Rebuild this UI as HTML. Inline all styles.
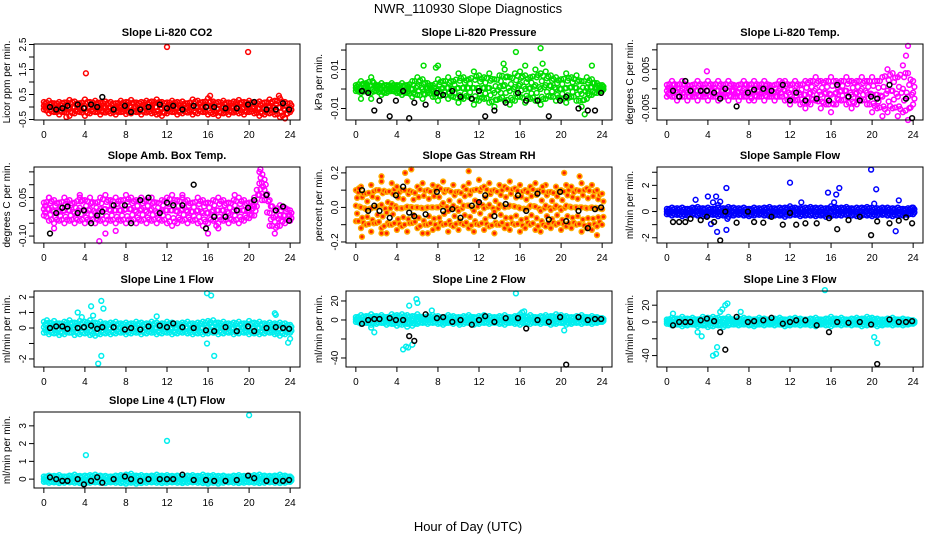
<!DOCTYPE html>
<html><head><meta charset="utf-8"><style>
html,body{margin:0;padding:0;background:#fff;}
svg{display:block;font-family:"Liberation Sans",Arial,sans-serif;}
</style></head><body>
<svg id="chart" width="936" height="540" viewBox="0 0 936 540">
<text x="468" y="13" text-anchor="middle" font-size="13">NWR_110930  Slope Diagnostics</text>
<text x="468" y="531" text-anchor="middle" font-size="13">Hour of Day (UTC)</text>
</svg>
<script>
const bandX=[0,0.5,1,1.5,2,2.5,3,3.5,4,4.5,5,5.5,6,6.5,7,7.5,8,8.5,9,9.5,10,10.5,11,11.5,12,12.5,13,13.5,14,14.5,15,15.5,16,16.5,17,17.5,18,18.5,19,19.5,20,20.5,21,21.5,22,22.5,23,23.5,24];
const blackX=[0.6,1.2,1.8,2.3,3.3,3.9,4.6,5.2,5.7,6.8,7.9,8.5,9.4,10.2,11.3,12,12.6,13.5,14.6,15.8,16.6,17.7,18.8,19.9,20.5,21.7,22.6,23.3,23.9];
const xTicks=[0,4,8,12,16,20,24];

const p1Hi=[0.2,0.25,0.15,0.2,0.18,0.28,0.22,0.15,0.3,0.2,0.25,0.18,0.22,0.2,0.15,0.25,0.2,0.28,0.18,0.2,0.25,0.22,0.3,0.2,0.18,0.25,0.2,0.22,0.15,0.3,0.25,0.2,0.35,0.22,0.2,0.25,0.18,0.22,0.28,0.2,0.25,0.2,0.22,0.18,0.3,0.25,0.35,0.2,0.15];
const p1Lo=[-0.1,-0.25,-0.2,-0.3,-0.2,-0.35,-0.25,-0.2,-0.35,-0.25,-0.2,-0.3,-0.22,-0.25,-0.3,-0.2,-0.28,-0.25,-0.2,-0.3,-0.22,-0.25,-0.3,-0.35,-0.25,-0.2,-0.3,-0.25,-0.22,-0.3,-0.25,-0.2,-0.3,-0.28,-0.35,-0.25,-0.3,-0.22,-0.25,-0.3,-0.2,-0.25,-0.35,-0.3,-0.25,-0.3,-0.4,-0.45,-0.2];
const p1OutX=[4.1,12,19.9,16.2,22.9,2.2,23.5];
const p1OutY=[1.35,2.4,2.2,0.45,0.45,-0.4,-0.45];
const p1Black=[0,-0.1,-0.05,0.05,0.1,-0.05,0.1,0,0.4,-0.1,0.05,-0.2,-0.1,0,0.1,-0.05,0.05,-0.1,0.05,0,0,-0.05,-0.05,0.1,0.2,-0.1,-0.1,0.15,-0.1];

const p2Hi=[0.002,0.004,0.003,0.006,0.002,0.003,0.002,0.003,0.002,0.003,0.002,0.004,0.006,0.005,0.003,0.002,0.005,0.004,0.006,0.004,0.008,0.006,0.005,0.009,0.007,0.006,0.008,0.005,0.007,0.01,0.006,0.008,0.009,0.007,0.006,0.01,0.008,0.009,0.007,0.006,0.005,0.008,0.006,0.007,0.004,0.006,0.005,0.003,0.002];
const p2Lo=[-0.001,-0.002,-0.001,-0.002,-0.001,-0.003,-0.002,-0.001,-0.002,-0.003,-0.002,-0.004,-0.003,-0.005,-0.002,-0.004,-0.006,-0.003,-0.005,-0.004,-0.007,-0.005,-0.004,-0.008,-0.006,-0.005,-0.007,-0.009,-0.005,-0.006,-0.008,-0.006,-0.004,-0.007,-0.005,-0.006,-0.008,-0.005,-0.004,-0.006,-0.005,-0.007,-0.004,-0.006,-0.009,-0.005,-0.003,-0.002,-0.001];
const p2OutX=[6.6,7.8,8,14.4,15.6,16.5,18,18.2,23,0.5,1.5,22.3];
const p2OutY=[0.012,0.011,0.012,0.013,0.019,0.012,0.021,0.013,0.012,-0.005,-0.005,-0.013];
const p2Black=[-0.001,-0.002,-0.011,-0.006,-0.014,-0.006,-0.001,-0.015,-0.007,-0.008,-0.002,-0.003,-0.001,-0.004,-0.005,-0.001,-0.014,-0.011,-0.007,-0.002,-0.006,-0.006,-0.014,-0.006,-0.004,-0.01,-0.011,-0.011,-0.002];

const p3Hi=[0.001,0.002,0.001,0.002,0.001,0.001,0.002,0.001,0.002,0.001,0.002,0.001,0.002,0.001,0.001,0.002,0.001,0.002,0.001,0.002,0.001,0.001,0.002,0.002,0.001,0.002,0.001,0.002,0.002,0.003,0.002,0.002,0.003,0.002,0.002,0.003,0.002,0.002,0.003,0.002,0.003,0.002,0.003,0.005,0.004,0.003,0.006,0.004,0.002];
const p3Lo=[-0.002,-0.002,-0.003,-0.002,-0.003,-0.002,-0.003,-0.002,-0.003,-0.002,-0.003,-0.002,-0.003,-0.002,-0.003,-0.002,-0.003,-0.003,-0.002,-0.003,-0.002,-0.003,-0.002,-0.003,-0.004,-0.003,-0.004,-0.005,-0.004,-0.003,-0.005,-0.004,-0.006,-0.004,-0.003,-0.004,-0.005,-0.004,-0.003,-0.004,-0.006,-0.005,-0.007,-0.006,-0.005,-0.007,-0.006,-0.008,-0.004];
const p3OutX=[3.9,5.3,16.2,21.5,23,23.3,23.5,23.2,23.8,17,21];
const p3OutY=[0.0045,-0.0095,-0.0095,-0.014,-0.0125,0.0085,0.011,-0.015,-0.013,-0.013,-0.011];
const p3Black=[-0.0005,-0.002,0.002,-0.0005,-0.0005,-0.0005,-0.001,-0.0025,0,-0.0045,-0.001,-0.0002,0,-0.0005,0.001,-0.003,-0.001,-0.003,-0.0025,-0.003,0.001,-0.002,-0.003,-0.002,-0.0025,0.001,-0.0125,-0.0025,-0.0075];

const p4Hi=[0.03,0.05,0.04,0.03,0.05,0.04,0.03,0.06,0.04,0.05,0.03,0.05,0.06,0.04,0.05,0.04,0.06,0.05,0.04,0.05,0.04,0.05,0.03,0.04,0.05,0.06,0.04,0.05,0.04,0.03,0.05,0.04,0.03,0.04,0.05,0.04,0.03,0.04,0.05,0.04,0.03,0.05,0.15,0.12,0.04,0,0.02,0.01,0];
const p4Lo=[-0.02,-0.04,-0.05,-0.04,-0.05,-0.04,-0.05,-0.04,-0.05,-0.04,-0.05,-0.04,-0.05,-0.04,-0.05,-0.04,-0.05,-0.04,-0.05,-0.04,-0.05,-0.04,-0.05,-0.04,-0.05,-0.06,-0.05,-0.04,-0.05,-0.04,-0.05,-0.06,-0.05,-0.04,-0.05,-0.04,-0.05,-0.04,-0.05,-0.04,-0.03,-0.02,0.06,0.04,-0.06,-0.09,-0.06,-0.05,-0.04];
const p4OutX=[5.4,6,3.5,0.5,1,7,13.5,16,17,16.8,18.6,20.4,21.1,21.3];
const p4OutY=[-0.12,-0.09,0.05,0.05,-0.07,-0.08,0.06,-0.09,-0.07,-0.06,0.06,0.02,0.16,0.14];
const p4Black=[-0.09,-0.01,0.01,0.015,-0.01,0,-0.05,-0.02,-0.005,0.02,0.02,-0.05,0.04,0.05,-0.01,0.03,0.02,0.02,0.1,-0.07,-0.025,-0.025,0,0.01,0.04,0.06,0,0.015,-0.04];

const p5Hi=[0.1,0.12,0.08,0.13,0.1,0.15,0.09,0.14,0.12,0.1,0.15,0.09,0.12,0.14,0.1,0.13,0.12,0.15,0.1,0.13,0.09,0.12,0.14,0.1,0.16,0.12,0.14,0.1,0.13,0.12,0.15,0.11,0.13,0.1,0.12,0.14,0.1,0.13,0.09,0.12,0.1,0.13,0.12,0.1,0.14,0.11,0.13,0.1,0.08];
const p5Lo=[-0.08,-0.12,-0.1,-0.14,-0.09,-0.12,-0.15,-0.1,-0.13,-0.11,-0.14,-0.09,-0.12,-0.15,-0.1,-0.13,-0.12,-0.1,-0.14,-0.11,-0.13,-0.1,-0.12,-0.14,-0.1,-0.13,-0.11,-0.15,-0.1,-0.12,-0.13,-0.1,-0.14,-0.12,-0.1,-0.13,-0.14,-0.11,-0.12,-0.1,-0.13,-0.11,-0.12,-0.1,-0.14,-0.12,-0.13,-0.11,-0.1];
const p5OutX=[0.6,2.5,5.4,11,4.8,18.2,21.8,20.3,0.3,23.5,2.5,7];
const p5OutY=[-0.17,-0.15,0.22,0.21,0.2,0.12,0.18,0.2,0.11,-0.16,0.18,-0.15];
const p5Black=[0.1,-0.02,0.01,-0.02,-0.06,0.07,0.12,-0.03,-0.05,-0.04,0.09,-0.02,-0.01,-0.06,0.01,0.03,0.07,-0.05,0.02,0.07,-0.02,0.08,-0.07,0.09,-0.08,-0.02,-0.12,-0.01,0];

const p6Hi=[0.2,0.3,0.25,0.3,0.2,0.3,0.35,0.25,0.3,0.2,0.3,0.25,0.35,0.3,0.25,0.3,0.2,0.3,0.25,0.3,0.35,0.25,0.3,0.3,0.4,0.3,0.25,0.3,0.35,0.3,0.3,0.25,0.4,0.3,0.3,0.35,0.25,0.3,0.3,0.35,0.3,0.25,0.3,0.3,0.25,0.3,0.2,0.25,0.3];
const p6Lo=[-0.2,-0.3,-0.25,-0.35,-0.3,-0.25,-0.3,-0.35,-0.3,-0.25,-0.35,-0.3,-0.4,-0.3,-0.25,-0.3,-0.35,-0.3,-0.25,-0.3,-0.35,-0.3,-0.3,-0.4,-0.3,-0.25,-0.35,-0.3,-0.3,-0.35,-0.3,-0.4,-0.35,-0.3,-0.3,-0.25,-0.3,-0.35,-0.3,-0.3,-0.35,-0.3,-0.25,-0.3,-0.35,-0.3,-0.3,-0.25,-0.2];
const p6OutX=[2.8,4,4.5,4.8,5,5.2,5.8,5.8,4.9,5.9,12,13.1,15.7,16.3,16.5,16.8,19.9,20.2,20.4,22.3,22.6,23.9,4.3];
const p6OutY=[0.9,1.15,0.7,1.15,0.5,0.75,1.8,-1.4,-1.55,-0.55,2.2,0.7,1.45,0.7,1.3,1.8,3.2,0.6,1.7,-1.5,0.85,0.3,-0.95];
const p6Black=[-0.8,-0.8,-0.8,-0.55,-0.65,-0.4,-0.8,-2.2,0,-0.85,0,-0.8,-0.85,-0.4,-1,-0.1,-1,-0.9,-0.9,-0.5,-1.35,-0.65,-0.4,-1.8,-0.75,-0.9,-0.7,-0.45,-0.9];

const p7Hi=[0.4,0.35,0.45,0.3,0.4,0.5,0.35,0.45,0.4,0.5,0.35,0.4,0.3,0.35,0.4,0.3,0.35,0.3,0.4,0.35,0.3,0.4,0.35,0.3,0.4,0.35,0.3,0.35,0.4,0.3,0.35,0.4,0.45,0.5,0.35,0.4,0.3,0.35,0.4,0.3,0.45,0.35,0.4,0.3,0.35,0.3,0.35,0.3,0.2];
const p7Lo=[-0.3,-0.4,-0.35,-0.45,-0.4,-0.3,-0.45,-0.4,-0.35,-0.45,-0.5,-0.4,-0.35,-0.4,-0.35,-0.3,-0.4,-0.35,-0.3,-0.4,-0.35,-0.3,-0.4,-0.35,-0.3,-0.4,-0.35,-0.3,-0.35,-0.4,-0.35,-0.4,-0.35,-0.3,-0.4,-0.35,-0.3,-0.4,-0.35,-0.3,-0.4,-0.35,-0.4,-0.35,-0.3,-0.4,-0.5,-0.4,-0.3];
const p7OutX=[0.3,3.3,3.7,4.8,5.6,5.8,4.6,5.3,5.6,15.9,16.3,15.9,16.6,22.5,22.6,23.8,24,11];
const p7OutY=[0.5,1,0.7,0.8,1.75,1.25,1.4,-2.3,-1.8,2.25,2.1,-1,-1.8,0.95,0.85,-0.95,-0.7,0.75];
const p7Black=[0,0.1,0.1,-0.05,0,0.05,0.15,-0.05,0.05,0.05,-0.1,0,-0.1,0.1,0.15,0.05,0.3,0.05,0,-0.15,-0.2,0.05,-0.2,0.1,-0.2,0,0.05,0,-0.05];

const p8Hi=[3,5,4,6,4,5,3,6,5,6,5,4,6,3,4,5,4,3,5,4,3,4,5,3,4,5,4,3,4,5,3,4,6,4,5,3,4,5,4,6,5,4,3,4,5,3,4,3,2];
const p8Lo=[-2,-4,-3,-5,-4,-3,-5,-4,-6,-5,-4,-6,-4,-3,-4,-3,-4,-5,-3,-4,-3,-4,-3,-5,-4,-3,-4,-3,-4,-5,-3,-4,-5,-3,-4,-3,-4,-3,-5,-4,-3,-5,-4,-3,-4,-3,-4,-3,-2];
const p8OutX=[4.6,4.9,5.1,5.5,5.2,5.9,6,5,7.4,1.5,1.8,15.6,20.3,16.2,16.4,10.1];
const p8OutY=[-31,-28,-29,-26,15,22,18,-7,10,-8,-13,28,-11,8,9,-5];
const p8Black=[-4,0,1,1,2,0,0,-17,-22,6,2,3,-2,0,-5,0,4,-2,2,2,-9,0,-2,3,-47,3,0,1,1];

const p9Hi=[3,5,4,6,4,5,3,6,5,6,5,4,6,3,4,5,4,3,5,4,3,4,5,3,4,5,4,3,4,5,3,4,6,4,5,3,4,5,4,6,5,4,3,4,5,3,4,3,2];
const p9Lo=[-2,-4,-3,-5,-4,-3,-5,-4,-6,-5,-4,-6,-4,-3,-4,-3,-4,-5,-3,-4,-3,-4,-3,-5,-4,-3,-4,-3,-4,-5,-3,-4,-5,-3,-4,-3,-4,-3,-5,-4,-3,-5,-4,-3,-4,-3,-4,-3,-2];
const p9OutX=[4.5,4.8,4.9,5.2,5.4,5.7,5.9,3,3.4,7.2,15.4,20.2,20.5,0.6];
const p9OutY=[-40,-38,-30,12,15,20,22,-12,-17,12,38,-18,-25,10];
const p9Black=[-4,0,0,0,2,4,1,-12,-33,6,0,1,2,5,-2,0,2,2,-4,-12,0,-1,0,-3,-50,3,0,0,1];

const p10Hi=[0.15,0.2,0.18,0.22,0.15,0.2,0.25,0.18,0.2,0.22,0.25,0.2,0.18,0.15,0.2,0.22,0.25,0.3,0.2,0.22,0.18,0.2,0.25,0.2,0.22,0.18,0.2,0.15,0.2,0.22,0.18,0.25,0.2,0.22,0.18,0.2,0.15,0.2,0.22,0.18,0.2,0.22,0.25,0.2,0.18,0.2,0.25,0.2,0.15];
const p10Lo=[-0.15,-0.2,-0.18,-0.22,-0.2,-0.18,-0.2,-0.22,-0.25,-0.2,-0.18,-0.2,-0.22,-0.18,-0.2,-0.22,-0.25,-0.2,-0.25,-0.22,-0.2,-0.18,-0.2,-0.22,-0.2,-0.18,-0.2,-0.22,-0.2,-0.18,-0.2,-0.22,-0.25,-0.2,-0.25,-0.2,-0.18,-0.2,-0.22,-0.2,-0.18,-0.2,-0.22,-0.2,-0.18,-0.2,-0.22,-0.2,-0.15];
const p10OutX=[4.1,12,20];
const p10OutY=[1.35,2.15,3.6];
const p10Black=[0.1,0,-0.1,-0.1,0,-0.3,-0.1,0.1,-0.2,0,0.15,0,-0.1,0,0,0,0,0.25,-0.05,-0.05,-0.1,-0.1,-0.05,0.2,0.05,-0.1,-0.1,-0.1,-0.05];

const p1Ticks=[-0.5,0,0.5,1,1.5,2,2.5]; const p1Labels=["-0.5","0.5","1.5","2.5"];
const p2Ticks=[-0.01,0,0.01,0.02]; const p2Labels=["-0.01","0.01"];
const p3Ticks=[-0.005,0,0.005,0.01]; const p3Labels=["-0.005","0.005"];
const p4Ticks=[-0.1,-0.05,0,0.05,0.1,0.15]; const p4Labels=["-0.10","0.05"];
const p5Ticks=[-0.2,-0.1,0,0.1,0.2]; const p5Labels=["-0.2","0.0","0.2"];
const p6Ticks=[-2,-1,0,1,2,3]; const p6Labels=["-2","0","2"];
const p7Ticks=[-2,-1,0,1,2]; const p7Labels=["-2","0","1","2"];
const p8Ticks=[-40,-20,0,20]; const p8Labels=["-40","0","20"];
const p9Ticks=[-40,-20,0,20]; const p9Labels=["-40","0","20"];
const p10Ticks=[0,1,2,3]; const p10Labels=["0","1","2","3"];

const NS="http://www.w3.org/2000/svg";
const svg=document.getElementById("chart");
const colX=[34,346,657], rowY=[44,167,291,412], W=266, H=76;

const panels=[
 {title:"Slope Li-820 CO2",ylab:"Licor ppm per min.",c:0,r:0,ylim:[-0.52,2.52],hi:p1Hi,lo:p1Lo,ox:p1OutX,oy:p1OutY,bk:p1Black,ticks:p1Ticks,labels:p1Labels,col:"#ff0000"},
 {title:"Slope Li-820 Pressure",ylab:"kPa per min.",c:1,r:0,ylim:[-0.0159,0.0231],hi:p2Hi,lo:p2Lo,ox:p2OutX,oy:p2OutY,bk:p2Black,ticks:p2Ticks,labels:p2Labels,col:"#00dd00"},
 {title:"Slope Li-820 Temp.",ylab:"degrees C per min.",c:2,r:0,ylim:[-0.008,0.0115],hi:p3Hi,lo:p3Lo,ox:p3OutX,oy:p3OutY,bk:p3Black,ticks:p3Ticks,labels:p3Labels,col:"#ff00ff"},
 {title:"Slope Amb. Box Temp.",ylab:"degrees C per min.",c:0,r:1,ylim:[-0.127,0.169],hi:p4Hi,lo:p4Lo,ox:p4OutX,oy:p4OutY,bk:p4Black,ticks:p4Ticks,labels:p4Labels,col:"#ff00ff"},
 {title:"Slope Gas Stream RH",ylab:"percent per min.",c:1,r:1,ylim:[-0.206,0.234],hi:p5Hi,lo:p5Lo,ox:p5OutX,oy:p5OutY,bk:p5Black,ticks:p5Ticks,labels:p5Labels,col:"#ffaa00",inner:"#ff2200"},
 {title:"Slope Sample Flow",ylab:"ml/min per min.",c:2,r:1,ylim:[-2.4,3.4],hi:p6Hi,lo:p6Lo,ox:p6OutX,oy:p6OutY,bk:p6Black,ticks:p6Ticks,labels:p6Labels,col:"#0000ff"},
 {title:"Slope Line 1 Flow",ylab:"ml/min per min.",c:0,r:2,ylim:[-2.52,2.39],hi:p7Hi,lo:p7Lo,ox:p7OutX,oy:p7OutY,bk:p7Black,ticks:p7Ticks,labels:p7Labels,col:"#00eeee"},
 {title:"Slope Line 2 Flow",ylab:"ml/min per min.",c:1,r:2,ylim:[-49.5,30.5],hi:p8Hi,lo:p8Lo,ox:p8OutX,oy:p8OutY,bk:p8Black,ticks:p8Ticks,labels:p8Labels,col:"#00eeee"},
 {title:"Slope Line 3 Flow",ylab:"ml/min per min.",c:2,r:2,ylim:[-53.6,36.9],hi:p9Hi,lo:p9Lo,ox:p9OutX,oy:p9OutY,bk:p9Black,ticks:p9Ticks,labels:p9Labels,col:"#00eeee"},
 {title:"Slope Line 4 (LT) Flow",ylab:"ml/min per min.",c:0,r:3,ylim:[-0.5,3.78],hi:p10Hi,lo:p10Lo,ox:p10OutX,oy:p10OutY,bk:p10Black,ticks:p10Ticks,labels:p10Labels,col:"#00eeee"}
];

function mk(tag,attrs,parent){const e=document.createElementNS(NS,tag);for(const k in attrs)e.setAttribute(k,attrs[k]);(parent||svg).appendChild(e);return e;}

panels.forEach((p,pi)=>{
  const x0=colX[p.c], y0=rowY[p.r];
  const xs=h=>x0+(h+0.96)/25.92*W;
  const ys=v=>y0+H-(v-p.ylim[0])/(p.ylim[1]-p.ylim[0])*H;
  const g=mk("g",{});
  
  
  const t=mk("text",{x:x0+W/2,y:y0-8,"text-anchor":"middle","font-size":"11","font-weight":"bold"},g);
  t.textContent=p.title;
  
  
  const yl=mk("text",{x:0,y:0,"text-anchor":"middle","font-size":"10",transform:`translate(${x0-24},${y0+H/2}) rotate(-90)`},g);
  yl.textContent=p.ylab;
  
  
  const pts=mk("g",{},g);
  
  
  const dot=(h,v,col,inner)=>{
    const cy=ys(v); if(cy<y0-1||cy>y0+H+1)return;
    const c=mk("circle",{cx:xs(h).toFixed(1),cy:cy.toFixed(1),r:2.4,fill:inner||"none",stroke:col,"stroke-width":1.5},pts);
    
    
  };
  for(let i=0;i<bandX.length;i++){
    const hi=p.hi[i], lo=p.lo[i], m=(hi+lo)/2;
    dot(bandX[i],hi,p.col,p.inner);
    dot(bandX[i],lo,p.col,p.inner);
    dot(bandX[i],m,p.col,p.inner);
    dot(bandX[i]+0.12,(hi+m)/2,p.col,p.inner);
    dot(bandX[i]+0.12,(lo+m)/2,p.col,p.inner);
    if(i<bandX.length-1){
      const nh=(hi+p.hi[i+1])/2, nl=(lo+p.lo[i+1])/2;
      dot(bandX[i]+0.25,nh*0.8,p.col,p.inner);
      dot(bandX[i]+0.25,nl*0.8,p.col,p.inner);
      dot(bandX[i]+0.37,(nh+nl)/2,p.col,p.inner);
    }
  }
  p.ox.forEach((h,i)=>dot(h,p.oy[i],p.col,p.inner));
  blackX.forEach((h,i)=>dot(h,p.bk[i],"#000"));
  const box=mk("rect",{x:x0,y:y0,width:W,height:H,fill:"none",stroke:"#000","stroke-width":1},g);
  
  
  xTicks.forEach(h=>{
    const x=xs(h);
    mk("line",{x1:x,x2:x,y1:y0+H,y2:y0+H+5,stroke:"#000"},g);
    const tl=mk("text",{x:x,y:y0+H+18,"text-anchor":"middle","font-size":"10"},g);
    tl.textContent=h;
    
    
  });
  p.ticks.forEach(v=>{
    const y=ys(v);
    if(y<y0-0.5||y>y0+H+0.5)return;
    mk("line",{x1:x0-5,x2:x0,y1:y,y2:y,stroke:"#000"},g);
  });
  p.labels.forEach(s=>{
    const y=ys(parseFloat(s));
    const tl=mk("text",{x:0,y:0,"text-anchor":"middle","font-size":"10",transform:`translate(${x0-8},${y}) rotate(-90)`},g);
    tl.textContent=s;
    
    
  });
});
</script>
</body></html>
